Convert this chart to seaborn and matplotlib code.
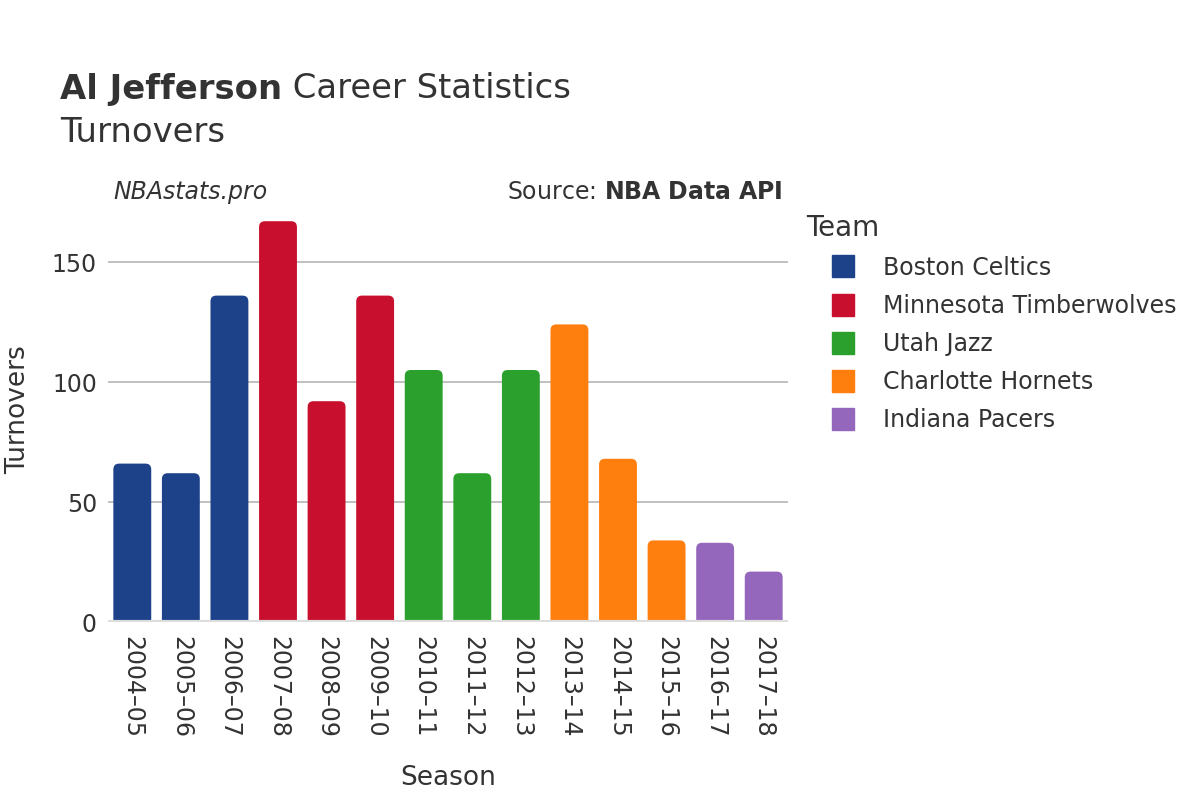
import matplotlib
matplotlib.use("Agg")
import matplotlib.pyplot as plt
import seaborn as sns
import pandas as pd
from matplotlib.patches import FancyBboxPatch
from matplotlib.lines import Line2D

seasons = ["2004–05", "2005–06", "2006–07", "2007–08", "2008–09", "2009–10", "2010–11",
           "2011–12", "2012–13", "2013–14", "2014–15", "2015–16", "2016–17", "2017–18"]
turnovers = [66, 62, 136, 167, 92, 136, 105, 62, 105, 124, 68, 34, 33, 21]
teams = ["Boston Celtics", "Boston Celtics", "Boston Celtics",
         "Minnesota Timberwolves", "Minnesota Timberwolves", "Minnesota Timberwolves",
         "Utah Jazz", "Utah Jazz", "Utah Jazz",
         "Charlotte Hornets", "Charlotte Hornets", "Charlotte Hornets",
         "Indiana Pacers", "Indiana Pacers"]
team_order = ["Boston Celtics", "Minnesota Timberwolves", "Utah Jazz", "Charlotte Hornets", "Indiana Pacers"]
team_colors = ["#1D428A", "#C8102E", "#2CA02C", "#FF7F0E", "#9467BD"]

df = pd.DataFrame({"Season": seasons, "Turnovers": turnovers, "Team": teams})

sns.set_style("white")
plt.rcParams['font.family'] = ['DejaVu Sans']
text_color = "#333333"

fig = plt.figure(figsize=(12, 8), dpi=100)
ax = fig.add_axes([108 / 1200, 1 - 622 / 800, (788 - 108) / 1200, (622 - 214) / 800])

sns.barplot(data=df, x="Season", y="Turnovers", hue="Team", hue_order=team_order,
            palette=dict(zip(team_order, team_colors)), dodge=False, width=0.78,
            order=seasons, ax=ax, legend=False, saturation=1)

ax.set_ylim(0, 170)
ax.set_xlim(-0.5, len(seasons) - 0.5)

# replace bars with rounded ones
xu_px = (788 - 108) / len(seasons)
yu_px = (622 - 214) / 170
aspect = xu_px / yu_px
r = 0.12
for p in list(ax.patches):
    h = p.get_height()
    if h == 0 or pd.isna(h):
        p.remove()
        continue
    x0 = p.get_x()
    w = p.get_width()
    fc = p.get_facecolor()
    p.remove()
    fb = FancyBboxPatch((x0, -r * aspect), w, h + r * aspect,
                        boxstyle=f"round,pad=0,rounding_size={r}",
                        mutation_aspect=aspect, facecolor=fc, edgecolor="none",
                        zorder=2)
    ax.add_patch(fb)

ax.set_yticks([0, 50, 100, 150])
ax.yaxis.grid(True, color="#bbbbbb", linewidth=1.3, zorder=0)
ax.set_axisbelow(True)
ax.axhline(0, color="#dddddd", linewidth=3, zorder=3)
for s in ax.spines.values():
    s.set_visible(False)
ax.tick_params(axis="y", length=0, labelsize=17, labelcolor=text_color, pad=8)
ax.tick_params(axis="x", length=0, labelsize=17, labelcolor=text_color, pad=10)
plt.setp(ax.get_xticklabels(), rotation=-90)

ax.set_xlabel("")
ax.set_ylabel("")
fig.text(448 / 1200, 1 - 778 / 800, "Season", fontsize=19, color=text_color,
         ha="center", va="center")
fig.text(18 / 1200, 1 - 410 / 800, "Turnovers", fontsize=19, color=text_color,
         ha="center", va="center", rotation=90)

renderer = fig.canvas.get_renderer()
t1 = fig.text(60 / 1200, 1 - 89 / 800, "Al Jefferson", fontsize=24.4, fontweight="bold",
              color=text_color, va="center", ha="left")
bb = t1.get_window_extent(renderer)
fig.text(bb.x1 / 1200, 1 - 89 / 800, " Career Statistics", fontsize=24.4,
         color=text_color, va="center", ha="left")
fig.text(60 / 1200, 1 - 133 / 800, "Turnovers", fontsize=24.4, color=text_color,
         va="center", ha="left")

fig.text(113 / 1200, 1 - 192 / 800, "NBAstats.pro", fontsize=17, style="italic",
         color=text_color, va="center", ha="left")
fig.text(783 / 1200, 1 - 192 / 800, r"Source: $\bf{NBA\ Data\ API}$", fontsize=17,
         color=text_color, va="center", ha="right")

handles = [Line2D([0], [0], marker="s", linestyle="none", markersize=16,
                  markerfacecolor=c, markeredgecolor=c) for c in team_colors]
leg = fig.legend(handles, team_order, loc="upper left",
                 bbox_to_anchor=(790 / 1200, 1 - 197 / 800), frameon=False,
                 title="Team", fontsize=17, title_fontsize=20,
                 labelcolor=text_color, handlelength=3.05, handletextpad=0.2,
                 labelspacing=0.6, borderpad=0.2)
leg.get_title().set_color(text_color)
leg._legend_box.align = "left"

fig.savefig("out.png", dpi=100)
